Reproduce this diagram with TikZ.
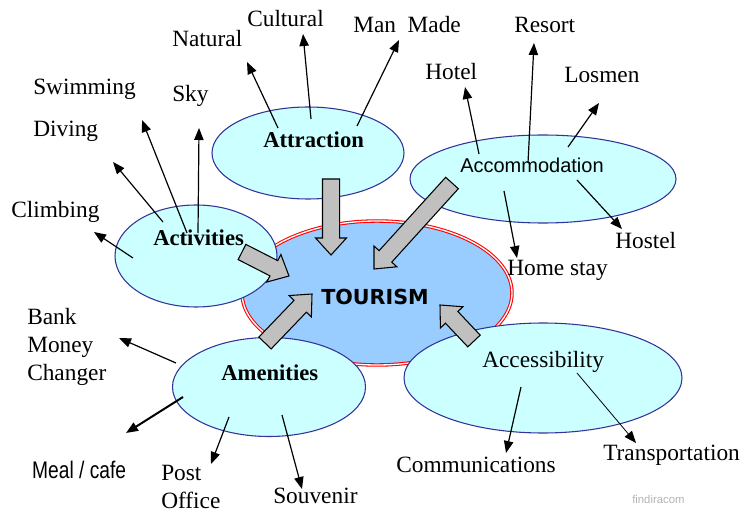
\documentclass[tikz,border=0pt]{standalone}
\usepackage{fontspec}
\setmainfont{Liberation Serif}
\newfontfamily\arialfont{Liberation Sans}
\newfontfamily\roundfont{DejaVu Sans}
\usetikzlibrary{shapes.geometric,arrows.meta,calc}
\definecolor{skyfill}{HTML}{99CCFF}
\definecolor{bubblefill}{HTML}{CCFFFF}
\definecolor{bubbleline}{HTML}{333399}
\definecolor{blockgray}{HTML}{C0C0C0}
% wide grey arrow from #1 to #2
\newcommand\blockarrow[2]{%
  \coordinate (neck) at ($(#2)!12.75pt!(#1)$);
  \draw[blockfill] ($(#1)!6.4pt!90:(#2)$) -- ($(neck)!6.4pt!90:(#2)$)
    -- ($(neck)!11.6pt!90:(#2)$) -- (#2) -- ($(neck)!11.6pt!-90:(#2)$)
    -- ($(neck)!6.4pt!-90:(#2)$) -- ($(#1)!6.4pt!-90:(#2)$) -- cycle;}
\begin{document}
\begin{tikzpicture}[x=0.75pt, y=-0.75pt,
    bubble/.style={ellipse, draw=bubbleline, fill=bubblefill, line width=0.8pt, inner sep=0pt},
    title/.style={font=\fontsize{17}{20}\selectfont\bfseries, anchor=base west, inner sep=0pt},
    lbl/.style={font=\fontsize{17.5}{21}\selectfont, anchor=base west, inner sep=0pt},
    pointer/.style={-{Triangle[length=9pt,width=7pt]}, line width=0.9pt},
    blockfill/.style={fill=blockgray, draw=black, line width=0.8pt, line join=miter}]
  \useasboundingbox (0,0) rectangle (752,520);
  % centre
  \node[ellipse, draw=red, double=white, double distance=1pt, line width=0.8pt, fill=skyfill,
        minimum width=202.5pt, minimum height=108pt] (tourism) at (377,293) {};
  \node[font=\roundfont\bfseries\fontsize{15.5}{18}\selectfont, anchor=base west, inner sep=0pt]
        (tourismtxt) at (321,304) {TOURISM};
  % the five groups
  \node[bubble, minimum width=144pt, minimum height=69pt] (attraction) at (308,153) {};
  \node[bubble, minimum width=199.5pt, minimum height=66pt] (accommodation) at (543,179) {};
  \node[bubble, minimum width=121.5pt, minimum height=76.5pt] (activities) at (196,256) {};
  \node[bubble, minimum width=144.75pt, minimum height=74.25pt] (amenities) at (269,387) {};
  \node[bubble, minimum width=208.5pt, minimum height=82.5pt] (accessibility) at (543,378) {};
  \node[title] (attractiontxt) at (263,148) {Attraction};
  \node[title, font=\arialfont\fontsize{15}{18}\selectfont] (accommodationtxt) at (460,173) {Accommodation};
  \node[title] (activitiestxt) at (153,245) {Activities};
  \node[title] (amenitiestxt) at (221,380) {Amenities};
  \node[lbl] (accessibilitytxt) at (482,367) {Accessibility};
  % labels
  \node[lbl] (cultural) at (247,27) {Cultural};
  \node[lbl] (natural) at (172,47) {Natural};
  \node[lbl] (manmade) at (353,33) {Man~~Made};
  \node[lbl] (resort) at (514,33) {Resort};
  \node[lbl] (hotel) at (425,80) {Hotel};
  \node[lbl] (losmen) at (564,83) {Losmen};
  \node[lbl] (swimming) at (33,95) {Swimming};
  \node[lbl] (sky) at (172,102) {Sky};
  \node[lbl] (diving) at (33,137) {Diving};
  \node[lbl] (climbing) at (11,218) {Climbing};
  \node[lbl] (hostel) at (615,248) {Hostel};
  \node[lbl] (homestay) at (507,275) {Home stay};
  \node[lbl, align=left] (bank) at (27,380) {Bank\\Money\\Changer};
  \node[lbl, font=\arialfont\fontsize{18}{21}\selectfont, xscale=0.8] (meal) at (32,478) {Meal / cafe};
  \node[lbl, align=left] (post) at (161,508) {Post\\Office};
  \node[lbl] (souvenir) at (273,503) {Souvenir};
  \node[lbl] (communications) at (396,472) {Communications};
  \node[lbl] (transportation) at (603,460) {Transportation};
  \node[font=\arialfont\fontsize{8.5}{10}\selectfont, text=black!30, anchor=base west, inner sep=0pt]
        (mark) at (632,503) {findiracom};
  % pointer ends
  \coordinate (at1) at (278,128); \coordinate (at1e) at (247,62);
  \coordinate (at2) at (311,119); \coordinate (at2e) at (303,34);
  \coordinate (at3) at (357,126); \coordinate (at3e) at (399,40);
  \coordinate (ac1) at (479,154); \coordinate (ac1e) at (465,87);
  \coordinate (ac2) at (528,163); \coordinate (ac2e) at (534,43);
  \coordinate (ac3) at (568,147); \coordinate (ac3e) at (599,103);
  \coordinate (ac4) at (577,180); \coordinate (ac4e) at (622,229);
  \coordinate (ac5) at (504,191); \coordinate (ac5e) at (517,258);
  \coordinate (av1) at (133,258); \coordinate (av1e) at (94,232);
  \coordinate (av2) at (163,222); \coordinate (av2e) at (113,162);
  \coordinate (av3) at (187,233); \coordinate (av3e) at (142,120);
  \coordinate (av4) at (198,233); \coordinate (av4e) at (199,128);
  \coordinate (am1) at (176,363); \coordinate (am1e) at (119,338);
  \coordinate (am2) at (183,397); \coordinate (am2e) at (126,433);
  \coordinate (am3) at (229,417); \coordinate (am3e) at (211,464);
  \coordinate (am4) at (282,415); \coordinate (am4e) at (302,489);
  \coordinate (as1) at (521,387); \coordinate (as1e) at (506,453);
  \coordinate (as2) at (577,373); \coordinate (as2e) at (636,443);
  \foreach \p in {at1,at2,at3,ac1,ac2,ac3,ac4,ac5,av1,av2,av3,av4,am1,am3,am4,as1}
    \draw[pointer] (\p) -- (\p e);
  \draw[pointer, line width=1.5pt] (am2) -- (am2e);
  \draw[pointer, line width=0.6pt] (as2) -- (as2e);
  % grey arrows into the centre
  \coordinate (f1) at (331,179); \coordinate (f1e) at (331,255);
  \coordinate (f2) at (452,183); \coordinate (f2e) at (374,269);
  \coordinate (f3) at (242,252); \coordinate (f3e) at (289,276);
  \coordinate (f4) at (265,343); \coordinate (f4e) at (312,294);
  \coordinate (f5) at (474,341); \coordinate (f5e) at (440,305);
  \blockarrow{f1}{f1e}
  \blockarrow{f2}{f2e}
  \blockarrow{f3}{f3e}
  \blockarrow{f4}{f4e}
  \blockarrow{f5}{f5e}
\end{tikzpicture}
\end{document}
